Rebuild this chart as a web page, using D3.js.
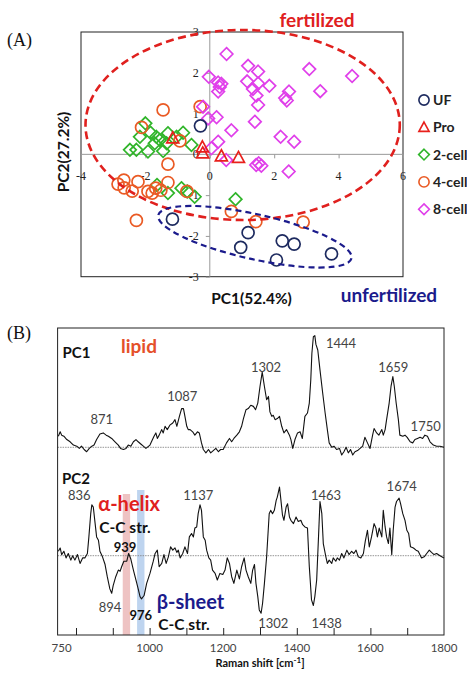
<!DOCTYPE html>
<html><head><meta charset="utf-8">
<script src="https://cdn.jsdelivr.net/npm/d3@7"></script>
<style>body{margin:0;background:#fff} svg{display:block}</style>
</head><body>
<svg id="c" width="467" height="674"></svg>
<script>
// ---------- Panel A data (PC scores) ----------
const pcaXTicks = [-4, -2, 0, 2, 4, 6];
const pcaYTicks = [-3, -2, -1, 0, 1, 2, 3];
const groupNames = ["UF", "Pro", "2-cell", "4-cell", "8-cell"];
const ufScores = [[1.19,-1.92],[0.96,-2.28],[2.25,-2.12],[2.62,-2.20],[2.07,-2.59],[3.78,-2.44],[-1.16,-1.59],[-0.29,0.70]];
const proScores = [[-1.15,0.40],[-0.23,0.18],[-0.22,0.03],[0.36,-0.04],[0.89,-0.08]];
const cell2Scores = [[-2.00,0.76],[-2.17,0.43],[-1.84,0.53],[-1.66,0.43],[-1.55,0.35],[-1.30,0.52],[-0.83,0.53],[-0.57,0.23],[-1.34,0.27],[-2.48,0.11],[-2.28,0.11],[-1.92,0.07],[-1.45,0.08],[-1.71,0.27],[-1.03,0.43],[-1.64,-0.75],[-1.30,-0.95],[-0.88,-0.83],[-0.70,-0.91],[-0.47,-1.04],[0.80,-1.10]];
const cell4Scores = [[-1.45,1.09],[-2.12,0.66],[-0.93,0.33],[-1.30,-0.24],[-0.30,1.17],[-2.85,-0.73],[-2.67,-0.63],[-2.66,-0.82],[-2.41,-0.90],[-2.23,-0.67],[-1.92,-0.91],[-1.79,-0.95],[-1.68,-0.83],[-1.52,-0.88],[-1.30,-0.69],[-0.71,-0.91],[-2.28,-1.62],[0.67,-1.40],[1.43,-1.65],[2.90,-1.66]];
const cell8Scores = [[0.52,2.46],[-0.03,1.90],[0.26,1.76],[0.36,1.73],[0.26,1.54],[0.31,1.65],[1.19,2.17],[1.50,2.03],[1.16,1.79],[1.50,1.74],[1.85,1.68],[1.34,1.60],[1.45,1.44],[1.50,1.21],[2.46,1.54],[2.34,1.38],[2.39,1.32],[3.09,2.09],[3.43,1.55],[4.42,1.92],[1.40,0.80],[0.67,0.59],[0.21,0.91],[-0.05,0.88],[2.20,0.43],[2.62,0.31],[0.26,0.31],[0.05,0.15],[0.51,-0.14],[1.44,-0.26],[1.52,-0.22],[1.60,-0.28],[2.45,-0.42],[-0.21,1.17]];
// group ellipses in score units: [cx, cy, rx, ry]
const fertilizedEllipse = [1.02, 0.72, 4.88, 2.33];

// ---------- Panel B data (PC loadings, arbitrary units) ----------
const ramanTicks = [800, 900, 1000, 1100, 1200, 1300, 1400, 1500, 1600, 1700];
const ramanTickLabels = [750, 1000, 1200, 1400, 1600, 1800];
const pc1Loading = [[752,10],[757,14],[761,11],[767,10],[775,7],[784,5],[793,2],[802,1],[809,-1],[815,1],[822,-2],[829,-4],[836,-1],[843,1],[849,2],[856,7],[865,12],[874,13],[882,11],[888,10],[897,8],[906,5],[915,2],[921,-1],[929,-2],[936,-1],[942,2],[949,1],[956,5],[963,7],[969,5],[976,3],[983,1],[990,-1],[1001,2],[1012,10],[1017,13],[1021,8],[1026,11],[1033,16],[1037,13],[1042,19],[1048,16],[1055,20],[1063,22],[1069,25],[1074,19],[1081,28],[1087,35],[1092,35],[1096,28],[1101,19],[1105,16],[1110,16],[1117,14],[1123,11],[1130,14],[1135,13],[1141,4],[1146,-2],[1153,-5],[1160,-2],[1166,-5],[1173,-3],[1180,-1],[1187,-4],[1193,-2],[1200,-2],[1209,4],[1217,8],[1223,5],[1229,8],[1237,11],[1244,14],[1250,19],[1255,26],[1262,34],[1268,35],[1275,38],[1282,37],[1288,34],[1294,40],[1300,55],[1306,68],[1312,55],[1318,43],[1323,46],[1327,32],[1332,28],[1336,29],[1341,25],[1347,26],[1353,28],[1359,19],[1365,13],[1372,16],[1380,11],[1384,7],[1389,-1],[1395,7],[1402,13],[1409,14],[1415,8],[1422,28],[1429,31],[1434,40],[1438,61],[1441,85],[1445,100],[1449,101],[1452,93],[1457,88],[1463,70],[1470,50],[1477,31],[1483,16],[1488,4],[1495,0],[1501,1],[1508,-2],[1516,-1],[1522,-7],[1528,-4],[1534,0],[1540,-5],[1546,-2],[1552,-7],[1558,-4],[1565,-3],[1572,-1],[1579,1],[1585,9],[1592,4],[1599,-1],[1606,11],[1610,17],[1617,13],[1623,11],[1631,16],[1635,11],[1640,16],[1644,25],[1651,40],[1656,55],[1661,64],[1665,55],[1670,40],[1676,25],[1680,11],[1688,10],[1694,11],[1700,9],[1708,5],[1715,4],[1721,7],[1728,8],[1735,9],[1742,8],[1748,11],[1755,10],[1762,5],[1771,2],[1780,1],[1789,1],[1800,0]];
const pc2Loading = [[752,4],[757,7],[761,1],[767,4],[773,-2],[779,2],[786,-4],[791,0],[797,-4],[804,1],[811,-7],[818,-2],[824,-2],[831,2],[835,17],[840,38],[843,46],[847,44],[852,29],[856,17],[861,14],[865,4],[872,-1],[879,-8],[885,-19],[892,-30],[897,-34],[901,-27],[908,-19],[915,-13],[920,-14],[924,-10],[930,-5],[938,-5],[943,2],[949,-3],[956,-13],[963,-22],[969,-30],[974,-37],[978,-39],[985,-36],[992,-25],[1001,-16],[1010,-5],[1015,2],[1021,5],[1026,-10],[1033,-7],[1039,1],[1045,-7],[1051,-1],[1057,8],[1063,5],[1069,7],[1074,3],[1078,5],[1083,-2],[1090,2],[1096,8],[1103,2],[1108,17],[1114,20],[1119,17],[1123,25],[1128,26],[1132,38],[1137,46],[1141,41],[1146,17],[1151,14],[1155,5],[1161,-2],[1166,-4],[1171,-13],[1178,-16],[1184,-22],[1191,-16],[1199,-17],[1205,-13],[1211,-2],[1217,-7],[1223,-19],[1229,-25],[1237,-13],[1244,-21],[1250,-10],[1257,-2],[1262,-13],[1268,-19],[1275,-25],[1280,-13],[1285,-8],[1289,-25],[1294,-37],[1298,-49],[1303,-52],[1307,-43],[1312,-25],[1318,-1],[1325,38],[1329,41],[1334,38],[1339,41],[1344,50],[1347,53],[1353,62],[1356,53],[1361,37],[1365,32],[1371,44],[1375,47],[1380,35],[1384,32],[1391,29],[1398,35],[1404,31],[1411,32],[1416,28],[1422,26],[1429,25],[1434,-10],[1440,-40],[1445,-45],[1449,-37],[1454,-22],[1459,17],[1463,49],[1468,38],[1472,11],[1479,-1],[1483,-7],[1488,-4],[1495,-7],[1499,-2],[1506,-5],[1510,-2],[1516,-4],[1522,2],[1528,-2],[1536,5],[1542,1],[1549,4],[1555,2],[1561,5],[1567,-1],[1574,-2],[1581,2],[1586,13],[1592,23],[1597,8],[1603,17],[1610,29],[1615,25],[1619,17],[1624,25],[1631,17],[1635,41],[1640,26],[1644,17],[1649,11],[1653,25],[1658,1],[1662,23],[1667,44],[1671,49],[1678,52],[1682,47],[1688,38],[1694,32],[1699,23],[1704,20],[1709,8],[1717,7],[1724,5],[1730,4],[1739,-2],[1746,-1],[1753,2],[1760,5],[1766,3],[1773,1],[1780,2],[1789,0],[1800,-2]];
const alphaHelixBand = [927, 947];
const betaSheetBand = [966, 986];

// ---------- drawing ----------
const svg = d3.select("#c");
const SANS = "Lato, 'Open Sans', sans-serif";
const SERIF = "'Liberation Serif', 'DejaVu Serif', serif";
const colors = {"UF":"#1d2a5f","Pro":"#e8201c","2-cell":"#30b52a","4-cell":"#ea5a24","8-cell":"#e03fea"};

// Panel A
const A = {l:81, r:403, t:32, b:276.7};
const x = d3.scaleLinear().domain([-4, 6]).range([A.l, A.r]);
const y = d3.scaleLinear().domain([-3, 3]).range([A.b, A.t]);
const gA = svg.append("g");

gA.append("rect").attr("x",A.l).attr("y",A.t).attr("width",A.r-A.l).attr("height",A.b-A.t)
  .attr("fill","none").attr("stroke","#222").attr("stroke-width",1);
gA.append("line").attr("x1",A.l).attr("x2",A.r).attr("y1",y(0)).attr("y2",y(0)).attr("stroke","#999").attr("stroke-width",1);
gA.append("line").attr("x1",x(0)).attr("x2",x(0)).attr("y1",A.t).attr("y2",A.b).attr("stroke","#999").attr("stroke-width",1);

const xAxisA = d3.axisBottom(x).tickValues(pcaXTicks).tickSize(4).tickFormat(() => "");
gA.append("g").attr("transform",`translate(0,${y(0)})`).call(xAxisA)
  .call(g => { g.select(".domain").remove(); g.selectAll("line").attr("stroke","#999"); });
const yAxisA = d3.axisLeft(y).tickValues(pcaYTicks).tickSize(4).tickFormat(() => "");
gA.append("g").attr("transform",`translate(${x(0)},0)`).call(yAxisA)
  .call(g => { g.select(".domain").remove(); g.selectAll("line").attr("stroke","#999"); });

gA.selectAll("text.xt").data(pcaXTicks).join("text").attr("class","xt")
  .attr("x", d => x(d)).attr("y", y(0) + 26).attr("text-anchor","middle")
  .attr("font-family",SERIF).attr("font-size",12).attr("fill","#222").text(d => d);
gA.selectAll("text.yt").data(pcaYTicks).join("text").attr("class","yt")
  .attr("x", x(0) - 11).attr("y", d => y(d) + 4).attr("text-anchor","end")
  .attr("font-family",SERIF).attr("font-size",12).attr("fill","#222").text(d => d);

const shapes = {
  circle: "M6,0A6,6 0 1,1 -6,0A6,6 0 1,1 6,0Z",
  diamond: "M0,-6.3L6.3,0L0,6.3L-6.3,0Z",
  triangle: "M0,-6.2L6,4.8L-6,4.8Z"
};
const groupShape = {"UF":"circle","Pro":"triangle","2-cell":"diamond","4-cell":"circle","8-cell":"diamond"};
const groupData = {"UF":ufScores,"Pro":proScores,"2-cell":cell2Scores,"4-cell":cell4Scores,"8-cell":cell8Scores};

["2-cell","4-cell","8-cell","UF","Pro"].forEach(gname => {
  gA.append("g").selectAll("path").data(groupData[gname]).join("path")
    .attr("d", shapes[groupShape[gname]])
    .attr("transform", d => `translate(${x(d[0])},${y(d[1])})`)
    .attr("fill","none").attr("stroke", colors[gname]).attr("stroke-width",1.7);
});

const fe = fertilizedEllipse;
gA.append("ellipse").attr("cx", x(fe[0])).attr("cy", y(fe[1]))
  .attr("rx", x(fe[0]+fe[2]) - x(fe[0])).attr("ry", y(fe[1]-fe[3]) - y(fe[1]))
  .attr("fill","none").attr("stroke","#e0201e").attr("stroke-width",2.6).attr("stroke-dasharray","8,4.5");
const ueCenter = [1.40, -2.02];
gA.append("ellipse").attr("cx",0).attr("cy",0).attr("rx",99).attr("ry",22.5)
  .attr("transform",`translate(${x(ueCenter[0])},${y(ueCenter[1])}) rotate(12.6)`)
  .attr("fill","none").attr("stroke","#1b1b8c").attr("stroke-width",2.2).attr("stroke-dasharray","6,4");

groupNames.forEach((gname, i) => {
  const ly = 100 + i * 27.3;
  gA.append("path").attr("d", shapes[groupShape[gname]])
    .attr("transform", `translate(424,${ly}) scale(0.85)`)
    .attr("fill","none").attr("stroke", colors[gname]).attr("stroke-width",1.9);
  gA.append("text").attr("x",433).attr("y",ly+5).attr("font-family",SANS).attr("font-weight","bold")
    .attr("font-size",14).attr("fill","#222").text(gname);
});

svg.append("text").attr("x",7).attr("y",46).attr("font-family",SERIF).attr("font-size",18).attr("fill","#111").text("(A)");
svg.append("text").attr("x",317).attr("y",27).attr("text-anchor","middle").attr("font-family",SANS)
  .attr("font-weight","bold").attr("font-size",19).attr("fill","#e0201e").text("fertilized");
svg.append("text").attr("x",389).attr("y",302).attr("text-anchor","middle").attr("font-family",SANS)
  .attr("font-weight","bold").attr("font-size",19).attr("fill","#1b1b8c").text("unfertilized");
svg.append("text").attr("x",251.5).attr("y",304).attr("text-anchor","middle").attr("font-family",SANS)
  .attr("font-weight","bold").attr("font-size",15.5).attr("fill","#111").text("PC1(52.4%)");
svg.append("text").attr("transform","translate(69,152) rotate(-90)").attr("text-anchor","middle").attr("font-family",SANS)
  .attr("font-weight","bold").attr("font-size",15.5).attr("fill","#111").text("PC2(27.2%)");

// Panel B
const B = {l:57.6, r:444, t:328, b:635};
const xr = d3.scaleLinear().domain([750, 1800]).range([B.l, B.r]);
const y1 = d3.scaleLinear().domain([0, 100]).range([447.3, 336.7]);
const y2 = d3.scaleLinear().domain([0, 100]).range([555.7, 445.1]);
const gB = svg.append("g");

gB.append("rect").attr("x", xr(alphaHelixBand[0])).attr("width", xr(alphaHelixBand[1]) - xr(alphaHelixBand[0]))
  .attr("y", 494).attr("height", B.b - 494).attr("fill","#ebb9b9").attr("opacity",0.85);
gB.append("rect").attr("x", xr(betaSheetBand[0])).attr("width", xr(betaSheetBand[1]) - xr(betaSheetBand[0]))
  .attr("y", 490).attr("height", B.b - 490).attr("fill","#b3cdec").attr("opacity",0.85);

[y1(0), y2(0)].forEach(by => {
  gB.append("line").attr("x1",B.l).attr("x2",B.r).attr("y1",by).attr("y2",by)
    .attr("stroke","#888").attr("stroke-width",0.9).attr("stroke-dasharray","1.5,1");
});

const line1 = d3.line().x(d => xr(d[0])).y(d => y1(d[1]));
const line2 = d3.line().x(d => xr(d[0])).y(d => y2(d[1]));
gB.append("path").attr("d", line1(pc1Loading)).attr("fill","none").attr("stroke","#111").attr("stroke-width",1.1).attr("stroke-linejoin","round");
gB.append("path").attr("d", line2(pc2Loading)).attr("fill","none").attr("stroke","#111").attr("stroke-width",1.1).attr("stroke-linejoin","round");

gB.append("rect").attr("x",B.l).attr("y",B.t).attr("width",B.r-B.l).attr("height",B.b-B.t)
  .attr("fill","none").attr("stroke","#222").attr("stroke-width",1);

const xAxisB = d3.axisTop(xr).tickValues(ramanTicks).tickSize(7).tickFormat(() => "");
gB.append("g").attr("transform",`translate(0,${B.b})`).call(xAxisB)
  .call(g => { g.select(".domain").remove(); g.selectAll("line").attr("stroke","#222"); });
gB.selectAll("text.rt").data(ramanTickLabels).join("text").attr("class","rt")
  .attr("x", d => xr(d) + (d === 750 ? 4 : 0)).attr("y", 652).attr("text-anchor","middle")
  .attr("font-family",SANS).attr("font-size",11.5).attr("fill","#444").text(d => d);
const xt = svg.append("text").attr("x",260).attr("y",667).attr("text-anchor","middle")
  .attr("font-family",SANS).attr("font-weight","bold").attr("font-size",11).attr("fill","#111");
xt.append("tspan").text("Raman shift  [cm");
xt.append("tspan").attr("dy",-4).attr("font-size",8).text("-1");
xt.append("tspan").attr("dy",4).text("]");

svg.append("text").attr("x",7).attr("y",339).attr("font-family",SERIF).attr("font-size",18).attr("fill","#111").text("(B)");

function label(t, xx, yy, o) {
  o = o || {};
  svg.append("text").attr("x",xx).attr("y",yy).attr("text-anchor",o.anchor || "middle")
    .attr("font-family",SANS).attr("font-weight",o.bold ? "bold" : "normal")
    .attr("font-size",o.size || 13).attr("fill",o.color || "#444").text(t);
}
label("PC1", 62.5, 358, {anchor:"start", bold:true, size:15, color:"#111"});
label("lipid", 121, 353, {anchor:"start", bold:true, size:19, color:"#e5502a"});
label("871", 101.7, 424);
label("1087", 182.3, 401);
label("1302", 266, 371.5);
label("1444", 341, 348);
label("1659", 393.3, 371.5);
label("1750", 425.7, 431);
label("PC2", 62, 483.5, {anchor:"start", bold:true, size:15, color:"#111"});
label("836", 79.3, 499.5);
label("1137", 198.3, 499.5);
label("α-helix", 98.3, 511, {anchor:"start", bold:true, size:20, color:"#e0201e"});
label("C-C str.", 99.3, 533, {anchor:"start", bold:true, size:15.5, color:"#111"});
label("939", 125, 551.5, {bold:true, size:13, color:"#111"});
label("894", 110, 611.5);
label("976", 140.7, 619.5, {bold:true, size:13, color:"#111"});
label("β-sheet", 156.7, 609, {anchor:"start", bold:true, size:20, color:"#1b1b8c"});
label("C-C str.", 158.3, 630, {anchor:"start", bold:true, size:15.5, color:"#111"});
label("1463", 326, 499.5);
label("1674", 401.7, 491);
label("1302", 273.3, 628);
label("1438", 326.7, 628);
</script>
</body></html>
